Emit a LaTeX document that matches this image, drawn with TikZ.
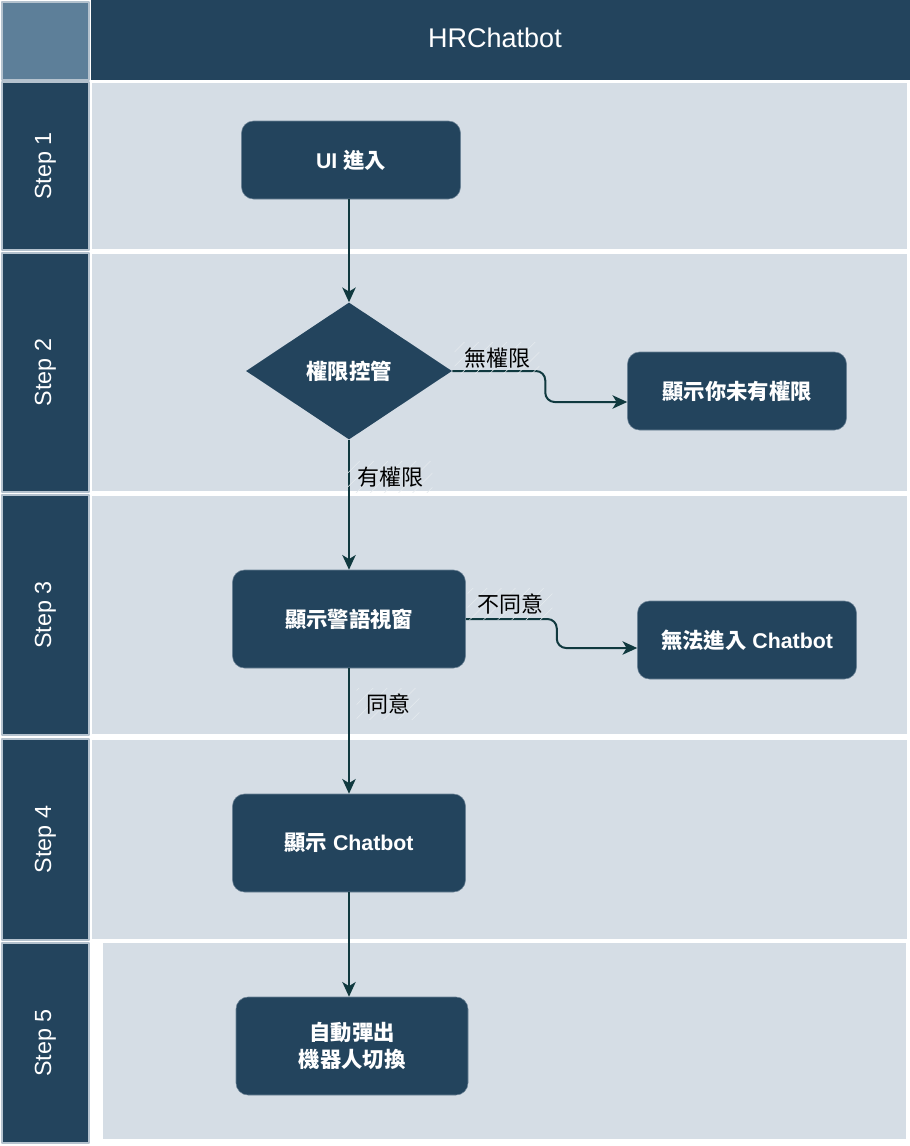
\documentclass[tikz,border=0pt]{standalone}
\usepackage{fontspec}
\setmainfont{Liberation Sans}
\newfontfamily\cjk{Noto Sans CJK TC}
\usetikzlibrary{shapes.geometric,arrows.meta,patterns.meta}
\definecolor{navy}{HTML}{23445D}
\definecolor{corner}{HTML}{5D7F99}
\definecolor{lanebg}{HTML}{D5DDE5}
\definecolor{edgecol}{HTML}{10393F}
\definecolor{rim}{HTML}{B4C2CE}
\begin{document}
\begin{tikzpicture}[x=0.75pt,y=-0.75pt,line join=round]
\tikzset{
  box/.style={draw=rim!50!navy, fill=navy, rounded corners=9pt, text=white, align=center,
    font=\bfseries\fontsize{16}{20.25}\selectfont, inner sep=0pt},
  decide/.style={diamond, fill=navy, text=white, inner sep=0pt, aspect=1.5,
    font=\bfseries\fontsize{16}{20}\selectfont, minimum width=154.5pt, minimum height=102.75pt},
  flow/.style={draw=edgecol, line width=1.5pt, rounded corners=7pt,
    -{Stealth[length=11pt,width=10pt,inset=3pt]}},
  edgetxt/.style={font=\cjk\fontsize{16.5}{19}\selectfont, inner xsep=7pt, inner ysep=4pt,
    pattern={Lines[angle=45,distance=7.5pt,line width=0.4pt]}, pattern color=white!40!lanebg},
  stepbox/.style={fill=navy, draw=rim, line width=1.2pt},
  lanebody/.style={fill=lanebg, draw=white, line width=1.5pt}
}
\useasboundingbox (0,0) rectangle (910,1146);
% pool header
\fill[white] (0,0) rectangle (910,1146);
\draw[fill=corner, draw=rim, line width=1.2pt] (2,2) rectangle (89,80);
\fill[navy] (91,0) rectangle (910,80);
\node[text=white, font=\fontsize{20.25}{24}\selectfont] (title) at (495,38) {HRChatbot};
% lanes
\foreach \i/\top/\bot in {1/82/250, 2/253/492, 3/495/735, 4/739/940}{
  \draw[lanebody] (91,\top) rectangle (908,\bot);
  \draw[stepbox] (2,\top) rectangle (89,\bot);
  \node[rotate=90, text=white, font=\fontsize{17.5}{20}\selectfont] (step\i) at (45.5,{(\top+\bot)/2}) {Step \i};
}
\draw[lanebody] (102,942) rectangle (907,1140);
\draw[stepbox] (2,943) rectangle (89,1143);
\node[rotate=90, text=white, font=\fontsize{17.5}{20}\selectfont] (step5) at (45.5,1043) {Step 5};
% nodes
\node[box, minimum width=164.25pt, minimum height=58.5pt] (ui) at (351,160) {UI {\cjk 進入}};
\node[decide] (perm) at (349,371) {\cjk 權限控管};
\node[box, minimum width=164.25pt, minimum height=58.5pt] (noperm) at (737,391) {\cjk 顯示你未有權限};
\node[box, minimum width=174.75pt, minimum height=73.5pt] (warn) at (349,619) {\cjk 顯示警語視窗};
\node[box, minimum width=164.25pt, minimum height=58.5pt] (noenter) at (747,640) {{\cjk 無法進入} Chatbot};
\node[box, minimum width=174.75pt, minimum height=73.5pt] (show) at (349,843) {{\cjk 顯示} Chatbot};
\node[box, minimum width=174pt, minimum height=73.5pt] (auto) at (352,1046) {\cjk 自動彈出\\ \cjk 機器人切換};
% connectors
\draw[flow] (ui.south -| perm.north) -- (perm.north);
\draw[flow] (perm.south) -- (warn.north);
\draw[flow] (perm.east) -- ++(93,0) |- ([yshift=-8.25pt]noperm.west);
\draw[flow] (warn.east) -- ++(91,0) |- ([yshift=-6pt]noenter.west);
\draw[flow] (warn.south) -- (show.north);
\draw[flow] (show.south) -- (show.south |- auto.north);
% edge labels
\node[edgetxt] (nolabel) at (497,358) {無權限};
\node[edgetxt] (yeslabel) at (390,477) {有權限};
\node[edgetxt] (disagree) at (510,604) {不同意};
\node[edgetxt] (agree) at (388,704) {同意};
\end{tikzpicture}
\end{document}
